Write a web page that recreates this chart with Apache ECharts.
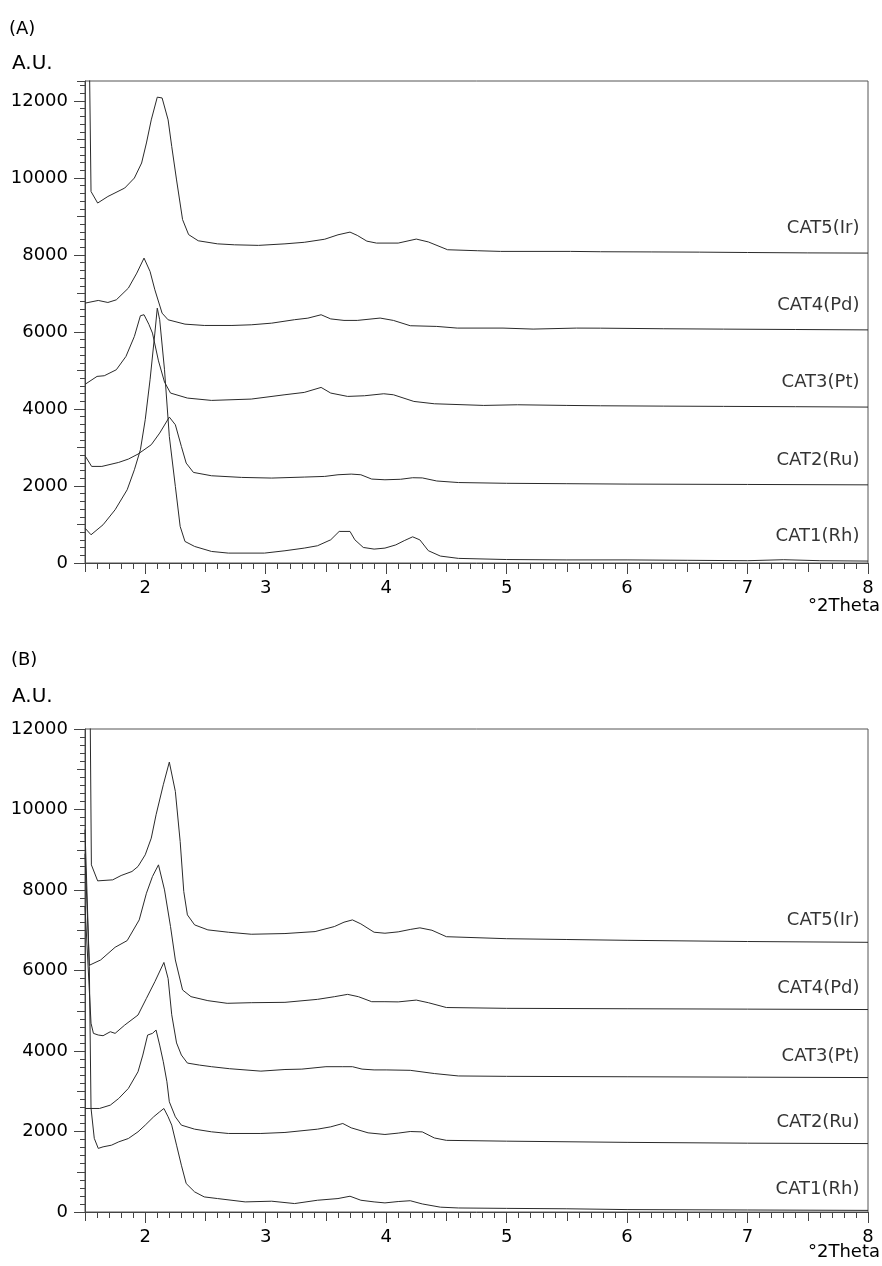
<!DOCTYPE html>
<html><head><meta charset="utf-8">
<script src="https://cdn.jsdelivr.net/npm/echarts@6/dist/echarts.min.js"></script>
<style>html,body{margin:0;padding:0;background:#fff}#c{width:882px;height:1266px}</style>
</head><body><div id="c"></div>
<script>
// ---- tick labels / categories ----
const SERIES_NAMES = ['CAT5(Ir)', 'CAT4(Pd)', 'CAT3(Pt)', 'CAT2(Ru)', 'CAT1(Rh)'];
const X_TICKS = [2, 3, 4, 5, 6, 7, 8];
const Y_TICKS = [0, 2000, 4000, 6000, 8000, 10000, 12000];

// ---- Panel (A) : [2theta, intensity] ----
const A_CAT5 = [[1.535,13500],[1.55,9650],[1.605,9350],[1.69,9520],[1.83,9740],[1.91,10000],[1.97,10390],[2.01,10910],[2.05,11510],[2.10,12100],[2.14,12080],[2.19,11510],[2.22,10820],[2.26,9950],[2.31,8920],[2.36,8530],[2.44,8370],[2.60,8290],[2.74,8265],[2.94,8250],[3.16,8290],[3.32,8330],[3.49,8410],[3.60,8525],[3.70,8595],[3.76,8510],[3.84,8360],[3.92,8310],[4.10,8310],[4.25,8414],[4.35,8340],[4.51,8137],[4.76,8111],[4.95,8094],[5.53,8094],[5.78,8085],[6.2,8080],[6.6,8075],[7.0,8065],[7.5,8055],[8.0,8050]];
const A_CAT4 = [[1.5,6750],[1.61,6820],[1.69,6767],[1.76,6836],[1.86,7140],[1.93,7530],[1.99,7920],[2.04,7573],[2.08,7096],[2.14,6490],[2.19,6317],[2.33,6204],[2.49,6170],[2.72,6170],[2.88,6187],[3.05,6230],[3.24,6320],[3.35,6360],[3.46,6448],[3.54,6340],[3.65,6301],[3.76,6301],[3.95,6362],[4.06,6301],[4.20,6163],[4.42,6145],[4.59,6102],[4.97,6102],[5.22,6076],[5.58,6102],[5.78,6100],[6.3,6085],[6.8,6075],[7.4,6065],[8.0,6055]];
const A_CAT3 = [[1.5,4640],[1.60,4847],[1.66,4864],[1.76,5020],[1.84,5366],[1.91,5886],[1.96,6423],[1.99,6449],[2.03,6200],[2.06,5972],[2.11,5250],[2.16,4700],[2.21,4414],[2.35,4284],[2.55,4223],[2.88,4258],[3.16,4371],[3.32,4431],[3.46,4561],[3.54,4414],[3.68,4327],[3.82,4344],[3.98,4396],[4.06,4370],[4.23,4197],[4.40,4136],[4.81,4093],[5.09,4110],[5.50,4093],[5.78,4084],[6.3,4075],[6.8,4068],[7.4,4060],[8.0,4050]];
const A_CAT2 = [[1.5,2786],[1.555,2509],[1.64,2509],[1.78,2613],[1.86,2699],[1.94,2829],[2.05,3072],[2.12,3375],[2.20,3790],[2.25,3591],[2.30,3028],[2.34,2595],[2.40,2353],[2.55,2266],[2.80,2223],[3.05,2206],[3.32,2232],[3.49,2249],[3.60,2292],[3.71,2309],[3.79,2292],[3.88,2180],[3.99,2162],[4.12,2175],[4.22,2215],[4.30,2210],[4.42,2130],[4.6,2090],[5.0,2070],[5.5,2060],[6.0,2050],[7.0,2040],[8.0,2030]];
const A_CAT1 = [[1.5,906],[1.55,733],[1.65,993],[1.75,1383],[1.85,1902],[1.91,2422],[1.96,2942],[2.0,3721],[2.04,4760],[2.08,5973],[2.10,6620],[2.12,6319],[2.16,5020],[2.20,3288],[2.25,1989],[2.29,950],[2.33,560],[2.41,430],[2.55,300],[2.69,257],[2.99,257],[3.16,318],[3.32,387],[3.43,448],[3.54,603],[3.61,820],[3.70,820],[3.74,603],[3.81,404],[3.90,361],[3.99,387],[4.08,470],[4.15,580],[4.22,680],[4.28,600],[4.35,320],[4.45,180],[4.6,120],[5.0,90],[5.5,80],[6.0,80],[6.5,70],[7.0,60],[7.3,85],[7.6,60],[8.0,50]];

// ---- Panel (B) ----
const B_CAT5 = [[1.54,13500],[1.553,8625],[1.605,8227],[1.73,8252],[1.80,8360],[1.89,8460],[1.94,8584],[2.0,8874],[2.05,9288],[2.09,9869],[2.15,10615],[2.20,11178],[2.25,10449],[2.29,9206],[2.32,7962],[2.35,7382],[2.41,7133],[2.52,7009],[2.69,6951],[2.88,6901],[3.16,6918],[3.41,6967],[3.57,7092],[3.65,7200],[3.72,7257],[3.79,7158],[3.90,6951],[3.99,6926],[4.1,6960],[4.2,7020],[4.28,7060],[4.38,7000],[4.5,6840],[5.0,6790],[5.5,6770],[6.0,6750],[7.0,6720],[8.0,6700]];
const B_CAT4 = [[1.5,8900],[1.536,6130],[1.63,6262],[1.75,6577],[1.85,6743],[1.95,7257],[2.01,7920],[2.06,8335],[2.11,8625],[2.16,8003],[2.21,7091],[2.25,6262],[2.31,5516],[2.38,5350],[2.52,5251],[2.68,5185],[2.88,5200],[3.16,5209],[3.43,5283],[3.57,5349],[3.68,5407],[3.77,5349],[3.88,5225],[3.99,5225],[4.1,5220],[4.25,5265],[4.35,5200],[4.5,5080],[5.0,5060],[6.0,5050],[7.0,5040],[8.0,5030]];
const B_CAT3 = [[1.5,7600],[1.55,4690],[1.57,4438],[1.61,4397],[1.65,4380],[1.71,4479],[1.75,4438],[1.83,4645],[1.94,4894],[2.01,5308],[2.08,5722],[2.155,6200],[2.19,5800],[2.22,4900],[2.26,4200],[2.30,3900],[2.35,3700],[2.45,3650],[2.55,3610],[2.7,3560],[2.96,3500],[3.16,3540],[3.3,3550],[3.5,3610],[3.64,3610],[3.72,3610],[3.8,3550],[3.9,3530],[4.0,3530],[4.2,3520],[4.4,3440],[4.6,3380],[5.0,3370],[6.0,3360],[7.0,3350],[8.0,3340]];
const B_CAT2 = [[1.5,2572],[1.62,2572],[1.71,2655],[1.78,2821],[1.86,3070],[1.94,3484],[1.98,3899],[2.02,4396],[2.06,4438],[2.09,4520],[2.12,4147],[2.15,3733],[2.18,3236],[2.20,2738],[2.25,2365],[2.30,2158],[2.41,2058],[2.55,1992],[2.69,1951],[2.96,1951],[3.16,1976],[3.43,2058],[3.54,2116],[3.64,2199],[3.71,2091],[3.85,1967],[3.99,1926],[4.1,1960],[4.2,2000],[4.3,1990],[4.4,1840],[4.5,1780],[5.0,1760],[6.0,1730],[7.0,1710],[8.0,1700]];
const B_CAT1 = [[1.5,9500],[1.536,6095],[1.55,2580],[1.577,1830],[1.61,1580],[1.65,1619],[1.72,1660],[1.78,1743],[1.86,1826],[1.94,1992],[2.0,2158],[2.07,2365],[2.12,2489],[2.155,2572],[2.19,2365],[2.22,2158],[2.26,1660],[2.30,1163],[2.34,707],[2.41,500],[2.49,375],[2.60,334],[2.83,251],[3.05,268],[3.24,210],[3.43,292],[3.60,334],[3.70,392],[3.79,292],[3.90,251],[3.99,226],[4.1,260],[4.2,280],[4.3,200],[4.45,120],[4.6,100],[5.0,90],[5.5,80],[6.0,60],[7.0,50],[8.0,40]];

const PANELS = [
  { series: [A_CAT5, A_CAT4, A_CAT3, A_CAT2, A_CAT1], yMax: 12520, top: 81, height: 482, labelDy: -24 },
  { series: [B_CAT5, B_CAT4, B_CAT3, B_CAT2, B_CAT1], yMax: 12000, top: 729, height: 483, labelDy: -21 }
];

const FONT = 'DejaVu Sans';
const FS = 18;
const AXIS_COLOR = '#444';
const LINE_COLOR = '#2a2a2a';

const grid = [], xAxis = [], yAxis = [], series = [];
PANELS.forEach((p, g) => {
  grid.push({ left: 85, top: p.top, width: 783, height: p.height, show: true,
              borderColor: '#555', borderWidth: 1, backgroundColor: 'transparent' });
  const xBase = { gridIndex: g, type: 'value', min: 1.5, max: 8, position: 'bottom',
                  splitLine: { show: false } };
  xAxis.push(Object.assign({}, xBase, {
    minInterval: 1, maxInterval: 1,
    axisLine: { show: true, onZero: false, lineStyle: { color: AXIS_COLOR, width: 1 } },
    axisTick: { show: true, length: 11, customValues: X_TICKS, lineStyle: { color: AXIS_COLOR } },
    axisLabel: { show: true, customValues: X_TICKS, margin: 16, fontSize: FS, fontFamily: FONT, color: '#000',
                 formatter: v => String(v) }
  }));
  xAxis.push(Object.assign({}, xBase, {
    interval: 0.5, axisLine: { show: false },
    axisTick: { show: true, length: 9, lineStyle: { color: AXIS_COLOR } }, axisLabel: { show: false }
  }));
  xAxis.push(Object.assign({}, xBase, {
    interval: 0.1, axisLine: { show: false },
    axisTick: { show: true, length: 6, lineStyle: { color: AXIS_COLOR } }, axisLabel: { show: false }
  }));
  const yBase = { gridIndex: g, type: 'value', min: 0, max: p.yMax, position: 'left',
                  splitLine: { show: false } };
  yAxis.push(Object.assign({}, yBase, {
    interval: 2000,
    axisLine: { show: true, onZero: false, lineStyle: { color: AXIS_COLOR, width: 1 } },
    axisTick: { show: true, length: 11, customValues: Y_TICKS, lineStyle: { color: AXIS_COLOR } },
    axisLabel: { show: true, customValues: Y_TICKS, margin: 17, fontSize: FS, fontFamily: FONT, color: '#000',
                 formatter: v => String(v) }
  }));
  yAxis.push(Object.assign({}, yBase, {
    interval: 1000, axisLine: { show: false },
    axisTick: { show: true, length: 8, lineStyle: { color: AXIS_COLOR } }, axisLabel: { show: false }
  }));
  yAxis.push(Object.assign({}, yBase, {
    interval: 200, axisLine: { show: false },
    axisTick: { show: true, length: 5, lineStyle: { color: AXIS_COLOR } }, axisLabel: { show: false }
  }));

  p.series.forEach((d, i) => {
    series.push({
      type: 'line', name: SERIES_NAMES[i], xAxisIndex: g * 3, yAxisIndex: g * 3,
      data: d, symbol: 'none', clip: true, silent: true,
      lineStyle: { color: LINE_COLOR, width: 1 }
    });
  });
  series.push({
    type: 'scatter', xAxisIndex: g * 3, yAxisIndex: g * 3, silent: true, clip: false,
    symbolSize: 1, itemStyle: { color: 'rgba(0,0,0,0)' },
    data: p.series.map((d, i) => ({ name: SERIES_NAMES[i], value: d[d.length - 1] })),
    label: { show: true, formatter: '{b}', position: [-8, p.labelDy], align: 'right', verticalAlign: 'middle',
             fontSize: FS, fontFamily: FONT, color: '#000', textBorderWidth: 0 }
  });
});

const txt = (left, top, text, size) => ({
  type: 'text', left: left, top: top, silent: true,
  style: { text: text, fontSize: size, fontFamily: FONT, fill: '#000' }
});

const chart = echarts.init(document.getElementById('c'), null, { renderer: 'canvas' });
chart.setOption({
  animation: false,
  backgroundColor: '#fff',
  grid: grid, xAxis: xAxis, yAxis: yAxis, series: series,
  graphic: [
    txt(9, 20, '(A)', FS),
    txt(12, 54, 'A.U.', 20),
    { type: 'text', right: 2, top: 597, silent: true, style: { text: '°2Theta', fontSize: FS, fontFamily: FONT, fill: '#000' } },
    txt(11, 651, '(B)', FS),
    txt(12, 687, 'A.U.', 20),
    { type: 'text', right: 2, top: 1243, silent: true, style: { text: '°2Theta', fontSize: FS, fontFamily: FONT, fill: '#000' } }
  ]
});
</script></body></html>
